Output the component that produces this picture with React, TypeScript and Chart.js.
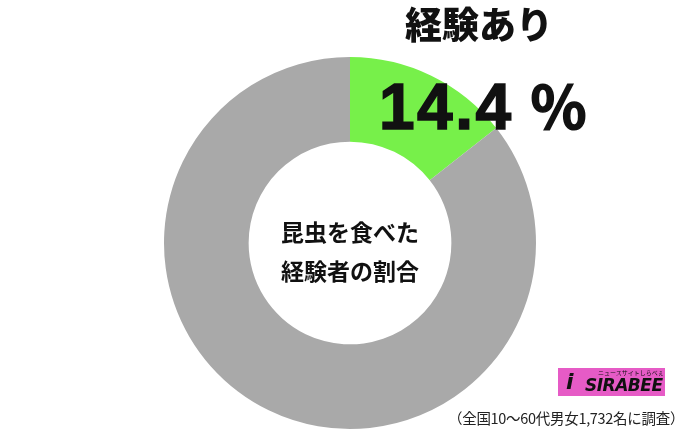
import React, { useEffect, useRef } from "react";
import { Chart, registerables } from "chart.js";

Chart.register(...registerables);

const categories = ["経験あり", "経験なし"];
const values = [14.4, 85.6];
const colors = ["#77F04A", "#A9A9A9"];
const titleLabel = "経験あり";
const valueLabel = "14.4";
const centerLines = ["昆虫を食べた", "経験者の割合"];
const footnote = "（全国10〜60代男女1,732名に調査）";

const JP = '"Noto Sans CJK JP", "Noto Sans", sans-serif';

export default function App() {
  const ref = useRef<HTMLCanvasElement | null>(null);

  useEffect(() => {
    document.body.style.margin = "0";
    if (!ref.current) return;
    const chart = new Chart(ref.current, {
      type: "doughnut",
      data: {
        labels: categories,
        datasets: [
          {
            data: values,
            backgroundColor: colors,
            borderWidth: 0,
            hoverOffset: 0,
          },
        ],
      },
      options: {
        responsive: false,
        animation: false,
        cutout: "54.5%",
        layout: { padding: { left: 164, right: 164, top: 57, bottom: 5 } },
        plugins: {
          legend: { display: false },
          tooltip: { enabled: false },
        },
      },
    });
    return () => chart.destroy();
  }, []);

  return (
    <div style={{ position: "relative", width: 700, height: 434, background: "#fff", overflow: "hidden" }}>
      <canvas ref={ref} width={700} height={434} style={{ position: "absolute", left: 0, top: 0 }} />
      <div
        style={{
          position: "absolute",
          left: 405,
          top: 0,
          fontFamily: JP,
          fontWeight: 900,
          fontSize: 37,
          lineHeight: "46px",
          color: "#111",
          letterSpacing: 0,
          whiteSpace: "nowrap",
        }}
      >
        {titleLabel}
      </div>
      <div
        style={{
          position: "absolute",
          left: 379,
          top: 66,
          fontFamily: '"Liberation Sans", Arial, sans-serif',
          fontWeight: 700,
          fontSize: 64,
          lineHeight: "76px",
          color: "#111",
          whiteSpace: "nowrap",
          letterSpacing: 2.5,
          WebkitTextStroke: "1.5px #111",
        }}
      >
        {valueLabel}
        <span style={{ fontFamily: JP, fontWeight: 700, fontSize: 58, marginLeft: 16, letterSpacing: 0 }}>％</span>
      </div>
      <div
        style={{
          position: "absolute",
          left: 230,
          width: 240,
          top: 212,
          textAlign: "center",
          fontFamily: JP,
          fontWeight: 700,
          fontSize: 23,
          lineHeight: "39px",
          color: "#111",
        }}
      >
        {centerLines.map((l, i) => (
          <div key={i}>{l}</div>
        ))}
      </div>
      <div
        style={{
          position: "absolute",
          left: 558,
          top: 368,
          width: 107,
          height: 28,
          background: "#E65BC6",
        }}
      >
        <div
          style={{
            position: "absolute",
            left: 8,
            top: 2,
            fontFamily: '"DejaVu Sans", sans-serif',
            fontWeight: 900,
            fontSize: 22,
            lineHeight: "24px",
            color: "#111",
            fontStyle: "italic",
          }}
        >
          i
        </div>
        <div
          style={{
            position: "absolute",
            left: 40,
            top: 1,
            fontFamily: JP,
            fontSize: 6,
            lineHeight: "7px",
            color: "#111",
            whiteSpace: "nowrap",
          }}
        >
          ニュースサイトしらべぇ
        </div>
        <div
          style={{
            position: "absolute",
            left: 27,
            top: 7,
            fontFamily: '"DejaVu Sans", sans-serif',
            fontWeight: 900,
            fontStyle: "italic",
            fontSize: 17,
            lineHeight: "20px",
            color: "#111",
            letterSpacing: -0.5,
          }}
        >
          SIRABEE
        </div>
      </div>
      <div
        style={{
          position: "absolute",
          left: 448,
          top: 407,
          fontFamily: JP,
          fontSize: 14.5,
          lineHeight: "22px",
          color: "#222",
          whiteSpace: "nowrap",
          letterSpacing: -0.3,
        }}
      >
        {footnote}
      </div>
    </div>
  );
}
